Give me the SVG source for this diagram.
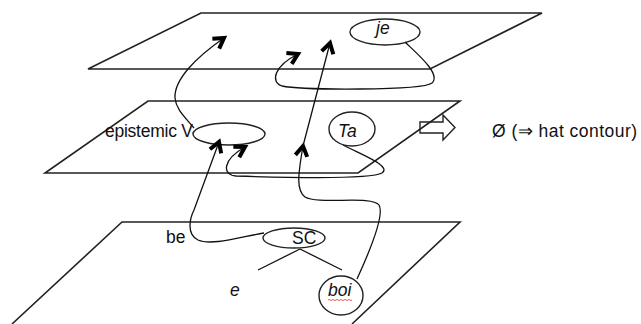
<svg xmlns="http://www.w3.org/2000/svg" width="641" height="324" viewBox="0 0 641 324">
  <style>
    .plane { fill: none; stroke: #222; stroke-width: 1.6; }
    .node { fill: none; stroke: #222; stroke-width: 1.4; }
    .link { fill: none; stroke: #111; stroke-width: 1.3; }
    .lbl { font-family: "Liberation Sans", Arial, sans-serif; font-size: 17.5px; fill: #111; }
    .it { font-style: italic; }
  </style>
  <defs>
    <marker id="chev" markerUnits="userSpaceOnUse" orient="auto" refX="0" refY="0" markerWidth="20" markerHeight="20" viewBox="-14 -10 18 20" overflow="visible">
      <path d="M-10,-6 L0,0 L-10,6" fill="none" stroke="#000" stroke-width="4" stroke-linejoin="miter"/>
    </marker>
  </defs>

  <rect width="641" height="324" fill="#fff"/>

  <!-- three stacked planes -->
  <g id="plane-top"><polygon class="plane" points="201,13 542,13 430,69 88,69"/></g>
  <g id="plane-middle"><polygon class="plane" points="148,101 460,101 358,173 45,173"/></g>
  <g id="plane-bottom"><polyline class="plane" points="12,324 122,222 460,222 352,324"/></g>

  <!-- nodes -->
  <g id="node-je">
    <ellipse class="node" cx="385" cy="32" rx="35" ry="13"/>
    <text class="lbl it" x="376" y="34">je</text>
  </g>
  <g id="node-epistemicV">
    <text class="lbl" x="105" y="137" textLength="88">epistemic V</text>
    <ellipse class="node" cx="229" cy="134" rx="36" ry="11"/>
  </g>
  <g id="node-Ta">
    <ellipse class="node" cx="352" cy="129" rx="23" ry="17"/>
    <text class="lbl it" x="338" y="137">Ta</text>
  </g>
  <g id="node-result">
    <polygon class="node" points="420,122 443,122 443,115 455,127.5 443,140 443,133 420,133"/>
    <text class="lbl" x="492" y="137" textLength="145">Ø (⇒ hat contour)</text>
  </g>
  <g id="node-be">
    <text class="lbl" x="166" y="243">be</text>
  </g>
  <g id="node-SC">
    <ellipse class="node" cx="294" cy="238" rx="31" ry="10"/>
    <text class="lbl" x="292" y="244">SC</text>
  </g>
  <g id="node-e">
    <text class="lbl it" x="230" y="296">e</text>
  </g>
  <g id="node-boi">
    <ellipse class="node" cx="341" cy="295.5" rx="22" ry="19.5"/>
    <text class="lbl it" x="328" y="296">boi</text>
    <path d="M328,300 q1,-1 2,0 t2,0 t2,0 t2,0 t2,0 t2,0 t2,0 t2,0 t2,0 t2,0 t2,0 t2,0" fill="none" stroke="#e03030" stroke-width="0.8"/>
  </g>

  <!-- connectors -->
  <g id="connectors">
    <!-- SC branches -->
    <path class="link" d="M300,249 L258,270 M300,249 L342,270"/>
    <!-- SC to epistemic V -->
    <path class="link" marker-end="url(#chev)" d="M264,233 C240,237 212,246 198,240 C186,234 190,218 194,210 L219,142"/>
    <!-- Ta loop back to epistemic V -->
    <path class="link" marker-end="url(#chev)" d="M343,145 C362,155 392,166 382,173 C372,179 300,178 236,176 C222,175 222,160 245,147"/>
    <!-- boi up to middle plane -->
    <path class="link" marker-end="url(#chev)" d="M357,279 C368,255 385,215 379,205 C372,195 318,205 305,197 C296,190 298,175 303,146"/>
    <!-- middle plane up to top plane -->
    <path class="link" marker-end="url(#chev)" d="M303,146 L330,43"/>
    <!-- epistemic V up to top plane -->
    <path class="link" marker-end="url(#chev)" d="M194,128 C186,118 176,110 175,98 C174,80 195,58 224,38"/>
    <!-- je loop back within top plane -->
    <path class="link" marker-end="url(#chev)" d="M405,42 C415,52 442,74 432,83 C422,91 300,90 282,86 C270,82 274,66 298,54"/>
  </g>
</svg>
